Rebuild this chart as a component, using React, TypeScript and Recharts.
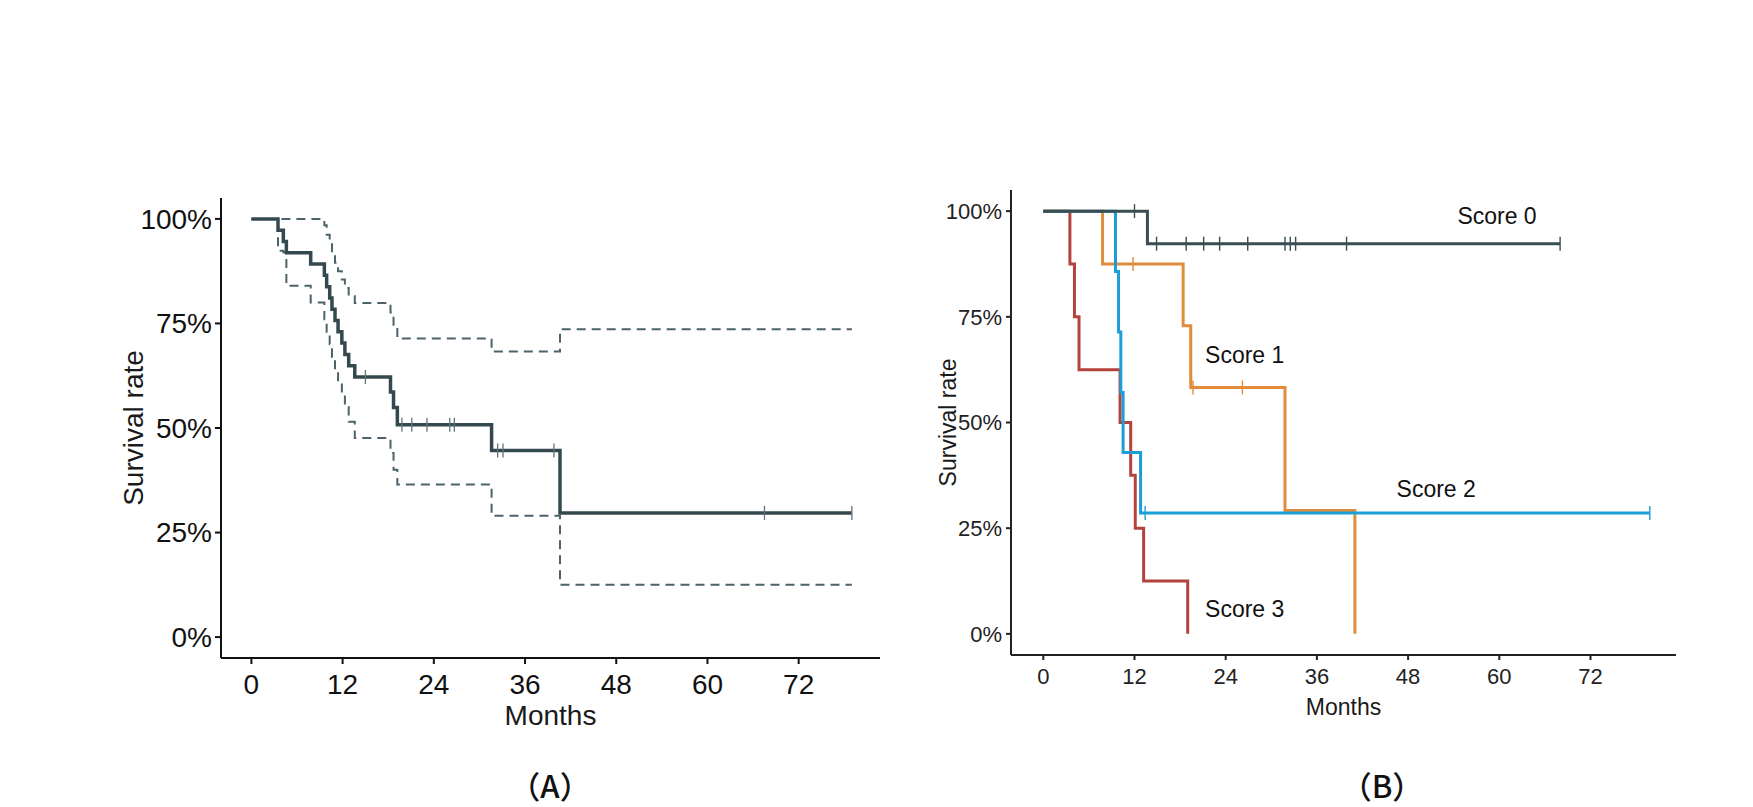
import React from 'react';
import { ComposedChart, Line, Scatter, XAxis, YAxis, ReferenceDot, Label } from 'recharts';

const monthTicks = [0, 12, 24, 36, 48, 60, 72];
const rateTicks = [0, 0.25, 0.5, 0.75, 1];

// ---- Panel (A): overall Kaplan-Meier with 95% CI ----
const aTime = [0, 3.5, 4.2, 4.6, 7.8, 9.6, 9.9, 10.3, 10.6, 11.0, 11.4, 11.9, 12.3, 12.8, 13.6, 18.3, 18.7, 19.2, 31.6, 40.6, 79];
const aSurv = [1, 0.973, 0.946, 0.919, 0.892, 0.865, 0.838, 0.811, 0.784, 0.757, 0.73, 0.703, 0.676, 0.649, 0.622, 0.586, 0.549, 0.508, 0.446, 0.297, 0.297];
const aUpper = [1, 1, 1, 1, 1, 0.985, 0.962, 0.94, 0.917, 0.895, 0.875, 0.855, 0.835, 0.815, 0.799, 0.776, 0.744, 0.714, 0.683, 0.736, 0.736];
const aLower = [1, 0.924, 0.92, 0.84, 0.8, 0.76, 0.73, 0.7, 0.67, 0.64, 0.61, 0.58, 0.55, 0.515, 0.476, 0.44, 0.4, 0.365, 0.29, 0.125, 0.125];
const aCensorTime = [15.0, 19.8, 21.1, 23.1, 26.1, 26.7, 32.4, 33.1, 39.8, 67.5, 79];
const aCensorSurv = [0.622, 0.508, 0.508, 0.508, 0.508, 0.508, 0.446, 0.446, 0.446, 0.297, 0.297];

// ---- Panel (B): by score ----
const s0Time = [0, 13.7, 68];
const s0Surv = [1, 0.923, 0.923];
const s0CensorTime = [12.0, 14.9, 18.8, 21.1, 23.2, 26.9, 31.8, 32.5, 33.2, 39.9, 68];
const s0CensorSurv = [1, 0.923, 0.923, 0.923, 0.923, 0.923, 0.923, 0.923, 0.923, 0.923, 0.923];

const s1Time = [0, 7.8, 18.4, 19.4, 31.8, 41.0];
const s1Surv = [1, 0.875, 0.729, 0.583, 0.292, 0];
const s1CensorTime = [11.8, 19.7, 26.2];
const s1CensorSurv = [0.875, 0.583, 0.583];

const s2Time = [0, 9.5, 9.9, 10.2, 10.5, 12.8, 79.8];
const s2Surv = [1, 0.857, 0.714, 0.571, 0.429, 0.286, 0.286];
const s2CensorTime = [13.4, 79.8];
const s2CensorSurv = [0.286, 0.286];

const s3Time = [0, 3.5, 4.1, 4.7, 10.1, 11.5, 12.1, 13.2, 19.0];
const s3Surv = [1, 0.875, 0.75, 0.625, 0.5, 0.375, 0.25, 0.125, 0];

const scoreNames = ['Score 0', 'Score 1', 'Score 2', 'Score 3'];
const scoreLabelTime = [59.7, 26.5, 51.7, 26.5];
const scoreLabelSurv = [0.99, 0.659, 0.344, 0.06];

const zip = (t: number[], s: number[]) => t.map((v, i) => ({ t: v, s: s[i] }));

const FONT = '"Liberation Sans", Arial, sans-serif';
const pct = (v: number) => `${Math.round(v * 100)}%`;

const censorShape = (color: string, h: number, w: number) => (props: any) => {
  const { cx, cy } = props;
  if (cx == null || cy == null) return <g />;
  return <line x1={cx} x2={cx} y1={cy - h} y2={cy + h} stroke={color} strokeWidth={w} />;
};

const yTitle = (text: string, dx: number, size: number) => (p: any) => {
  const vb = p.viewBox || {};
  const cx = vb.x + dx;
  const cy = vb.y + vb.height / 2;
  return (
    <text x={cx} y={cy} transform={`rotate(-90, ${cx}, ${cy})`} textAnchor="middle" dominantBaseline="central"
      fontSize={size} fontFamily={FONT} fill="#1a1a1a">{text}</text>
  );
};

const xTitle = (text: string, dy: number, size: number) => (p: any) => {
  const vb = p.viewBox || {};
  const cx = vb.x + vb.width / 2;
  const cy = vb.y + dy;
  return (
    <text x={cx} y={cy} textAnchor="middle" dominantBaseline="central" fontSize={size} fontFamily={FONT} fill="#1a1a1a">{text}</text>
  );
};

const ChartA = () => {
  const main = zip(aTime, aSurv);
  const up = zip(aTime, aUpper);
  const lo = zip(aTime, aLower);
  const cens = zip(aCensorTime, aCensorSurv);
  const lineC = '#34494f';
  const dashC = '#4c6369';
  return (
    <ComposedChart width={900} height={807} margin={{ top: 198, right: 20, bottom: 89, left: 121 }}>
      <XAxis dataKey="t" type="number" domain={[-4, 82.7]} ticks={monthTicks} interval={0} allowDataOverflow
        height={60} axisLine={{ stroke: '#111', strokeWidth: 2 }} tickLine={{ stroke: '#111', strokeWidth: 2 }}
        tickSize={6} tickMargin={10} tick={{ fill: '#111', fontSize: 28, fontFamily: FONT }}>
        <Label content={xTitle('Months', 57, 28)} />
      </XAxis>
      <YAxis dataKey="s" type="number" domain={[-0.05, 1.05]} ticks={rateTicks} interval={0} allowDataOverflow
        width={100} tickFormatter={pct} axisLine={{ stroke: '#111', strokeWidth: 2 }} tickLine={{ stroke: '#111', strokeWidth: 2 }}
        tickSize={6} tickMargin={3} tick={{ fill: '#111', fontSize: 28, fontFamily: FONT }}>
        <Label content={yTitle('Survival rate', 12, 28)} />
      </YAxis>
      <Line data={up} dataKey="s" type="stepAfter" stroke={dashC} strokeWidth={2} strokeDasharray="9 6" dot={false} isAnimationActive={false} />
      <Line data={lo} dataKey="s" type="stepAfter" stroke={dashC} strokeWidth={2} strokeDasharray="9 6" dot={false} isAnimationActive={false} />
      <Line data={main} dataKey="s" type="stepAfter" stroke={lineC} strokeWidth={3.5} dot={false} isAnimationActive={false} />
      <Scatter data={cens} dataKey="s" shape={censorShape('#5f7479', 7, 1.3)} isAnimationActive={false} />
    </ComposedChart>
  );
};

const ChartB = () => {
  const c0 = '#3a4d52';
  const c1 = '#e18b3c';
  const c2 = '#1c9fd8';
  const c3 = '#b5433d';
  return (
    <ComposedChart width={853} height={807} margin={{ top: 190, right: 77, bottom: 92, left: 31 }}>
      <XAxis dataKey="t" type="number" domain={[-4.25, 83.25]} ticks={monthTicks} interval={0} allowDataOverflow
        height={60} axisLine={{ stroke: '#222', strokeWidth: 2 }} tickLine={{ stroke: '#222', strokeWidth: 2 }}
        tickSize={5} tickMargin={8} tick={{ fill: '#222', fontSize: 22, fontFamily: FONT }}>
        <Label content={xTitle('Months', 52, 23)} />
      </XAxis>
      <YAxis dataKey="s" type="number" domain={[-0.05, 1.05]} ticks={rateTicks} interval={0} allowDataOverflow
        width={80} tickFormatter={pct} axisLine={{ stroke: '#222', strokeWidth: 2 }} tickLine={{ stroke: '#222', strokeWidth: 2 }}
        tickSize={5} tickMargin={4} tick={{ fill: '#222', fontSize: 22, fontFamily: FONT }}>
        <Label content={yTitle('Survival rate', 17, 23)} />
      </YAxis>
      <Line data={zip(s3Time, s3Surv)} dataKey="s" type="stepAfter" stroke={c3} strokeWidth={3} dot={false} isAnimationActive={false} />
      <Line data={zip(s1Time, s1Surv)} dataKey="s" type="stepAfter" stroke={c1} strokeWidth={3} dot={false} isAnimationActive={false} />
      <Line data={zip(s2Time, s2Surv)} dataKey="s" type="stepAfter" stroke={c2} strokeWidth={3} dot={false} isAnimationActive={false} />
      <Line data={zip(s0Time, s0Surv)} dataKey="s" type="stepAfter" stroke={c0} strokeWidth={3} dot={false} isAnimationActive={false} />
      <Scatter data={zip(s0CensorTime, s0CensorSurv)} dataKey="s" shape={censorShape(c0, 7, 1.4)} isAnimationActive={false} />
      <Scatter data={zip(s1CensorTime, s1CensorSurv)} dataKey="s" shape={censorShape(c1, 7, 1.4)} isAnimationActive={false} />
      <Scatter data={zip(s2CensorTime, s2CensorSurv)} dataKey="s" shape={censorShape(c2, 7, 1.4)} isAnimationActive={false} />
      {scoreNames.map((name, i) => (
        <ReferenceDot key={name} x={scoreLabelTime[i]} y={scoreLabelSurv[i]} r={0} fill="none" stroke="none" ifOverflow="visible"
          label={{ value: name, position: 'center', fontSize: 23, fontFamily: FONT, fill: '#111' }} />
      ))}
    </ComposedChart>
  );
};

const panelLabelStyle = (left: number): React.CSSProperties => ({
  position: 'absolute', left, top: 784, transform: 'translate(-50%, -50%)', fontFamily: '"Noto Sans CJK SC", sans-serif',
  fontSize: 31, fontWeight: 500, lineHeight: 1, color: '#111', whiteSpace: 'nowrap',
});

export default function App() {
  return (
    <div style={{ position: 'absolute', left: 0, top: 0, width: 1753, height: 807, background: '#fff', overflow: 'hidden' }}>
      <div style={{ position: 'absolute', left: 0, top: 0 }}>
        <ChartA />
      </div>
      <div style={{ position: 'absolute', left: 900, top: 0 }}>
        <ChartB />
      </div>
      <div style={panelLabelStyle(550)}>（A）</div>
      <div style={panelLabelStyle(1382)}>（B）</div>
    </div>
  );
}
